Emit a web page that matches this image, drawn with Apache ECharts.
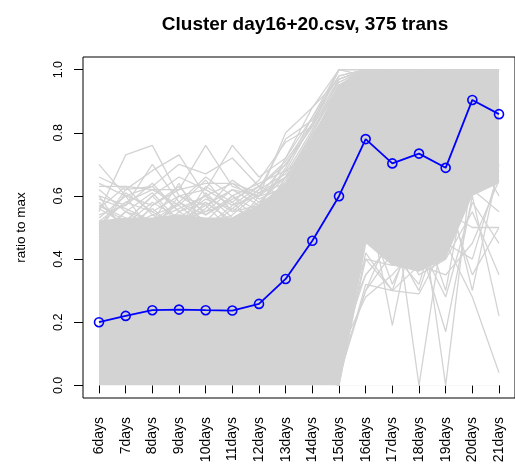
<!DOCTYPE html>
<html>
<head>
<meta charset="utf-8">
<script src="https://cdn.jsdelivr.net/npm/echarts@6/dist/echarts.min.js"></script>
<style>
  html, body { margin: 0; padding: 0; background: #fff; }
  #chart { width: 515px; height: 467px; }
</style>
</head>
<body>
<div id="chart"></div>
<script>
// tick labels on the x axis (one per day column)
var days = ['6days', '7days', '8days', '9days', '10days', '11days', '12days', '13days',
  '14days', '15days', '16days', '17days', '18days', '19days', '20days', '21days']
var yTicks = [0, 0.2, 0.4, 0.6, 0.8, 1.0]

// cluster mean (blue)
var meanRatio = [0.200, 0.220, 0.238, 0.240, 0.238, 0.237, 0.258, 0.337,
  0.458, 0.599, 0.780, 0.703, 0.734, 0.689, 0.904, 0.859]

// dense grey core of the 375 transcripts: lower / upper edge per day
var coreLow = [0, 0, 0, 0, 0, 0, 0, 0, 0, 0, 0.45, 0.38, 0.36, 0.40, 0.60, 0.64]
var coreHigh = [0.52, 0.53, 0.53, 0.54, 0.53, 0.53, 0.57, 0.64, 0.78, 0.95, 1, 1, 1, 1, 1, 1]

// individual transcripts that stand out of the core
var transHigh = [
  [0.70, 0.60, 0.63, 0.55, 0.58, 0.52, 0.55, 0.62, 0.78, 0.92, 1, 0.95, 1, 0.90, 1, 1],
  [0.55, 0.73, 0.76, 0.60, 0.62, 0.57, 0.60, 0.70, 0.82, 1, 1, 1, 0.95, 1, 1, 0.95],
  [0.50, 0.62, 0.68, 0.73, 0.60, 0.64, 0.58, 0.66, 0.80, 0.95, 1, 0.90, 1, 1, 0.95, 1],
  [0.64, 0.60, 0.57, 0.62, 0.76, 0.63, 0.60, 0.62, 0.75, 0.90, 1, 1, 0.92, 1, 1, 1],
  [0.57, 0.52, 0.60, 0.66, 0.62, 0.76, 0.66, 0.72, 0.85, 1, 0.98, 1, 1, 0.95, 1, 1],
  [0.66, 0.62, 0.63, 0.70, 0.67, 0.72, 0.63, 0.60, 0.70, 0.88, 1, 0.92, 1, 1, 1, 0.90],
  [0.63, 0.63, 0.62, 0.62, 0.64, 0.64, 0.61, 0.66, 0.72, 0.86, 0.97, 1, 1, 1, 0.96, 1],
  [0.60, 0.57, 0.70, 0.58, 0.66, 0.60, 0.64, 0.68, 0.74, 0.90, 1, 1, 0.98, 1, 1, 1],
  [0.52, 0.58, 0.55, 0.60, 0.57, 0.62, 0.60, 0.80, 0.88, 1, 1, 0.95, 1, 0.90, 1, 1],
  [0.48, 0.55, 0.52, 0.56, 0.60, 0.55, 0.62, 0.78, 0.84, 0.98, 1, 1, 1, 1, 1, 1],
  [0.45, 0.50, 0.54, 0.50, 0.58, 0.52, 0.56, 0.72, 0.88, 0.97, 1, 1, 0.96, 1, 1, 1],
  [0.42, 0.48, 0.45, 0.52, 0.55, 0.58, 0.65, 0.77, 0.82, 0.96, 1, 1, 1, 1, 1, 1],
  [0.47, 0.55, 0.50, 0.58, 0.52, 0.60, 0.55, 0.65, 0.80, 0.95, 1, 1, 1, 1, 1, 1],
  [0.58, 0.50, 0.56, 0.49, 0.61, 0.53, 0.58, 0.62, 0.75, 0.92, 1, 0.96, 1, 1, 1, 1],
  [0.53, 0.60, 0.48, 0.55, 0.50, 0.57, 0.63, 0.70, 0.82, 0.96, 1, 1, 1, 0.95, 1, 1],
  [0.62, 0.55, 0.61, 0.52, 0.57, 0.49, 0.60, 0.66, 0.78, 0.94, 1, 1, 0.97, 1, 1, 1],
  [0.50, 0.47, 0.57, 0.63, 0.54, 0.60, 0.52, 0.64, 0.80, 0.97, 1, 1, 1, 1, 0.97, 1],
  [0.56, 0.63, 0.54, 0.57, 0.65, 0.55, 0.57, 0.68, 0.83, 1, 1, 1, 1, 1, 1, 1],
  [0.46, 0.52, 0.60, 0.51, 0.56, 0.65, 0.59, 0.63, 0.79, 0.93, 1, 0.97, 1, 1, 1, 1],
  [0.60, 0.48, 0.52, 0.64, 0.49, 0.56, 0.62, 0.67, 0.81, 0.95, 1, 1, 1, 1, 1, 1],
  [0.54, 0.57, 0.64, 0.55, 0.60, 0.50, 0.54, 0.61, 0.77, 0.92, 1, 1, 1, 1, 1, 1],
  [0.49, 0.61, 0.55, 0.50, 0.63, 0.58, 0.50, 0.60, 0.76, 0.90, 1, 1, 1, 1, 1, 1],
  [0.57, 0.53, 0.49, 0.60, 0.55, 0.62, 0.57, 0.69, 0.85, 0.98, 1, 1, 1, 1, 1, 1],
  [0.51, 0.58, 0.62, 0.57, 0.50, 0.54, 0.61, 0.64, 0.78, 0.94, 1, 1, 1, 1, 1, 1],
  [0.56, 0.51, 0.58, 0.53, 0.59, 0.56, 0.53, 0.66, 0.79, 0.93, 1, 1, 1, 1, 1, 1],
  [0.59, 0.56, 0.52, 0.58, 0.54, 0.59, 0.63, 0.71, 0.83, 0.97, 1, 1, 1, 1, 1, 1]
]
var transLow = [
  [0.10, 0.12, 0.15, 0.10, 0.12, 0.08, 0.10, 0.05, 0.02, 0.00, 0.45, 0.60, 0.00, 0.55, 0.80, 0.90],
  [0.15, 0.10, 0.12, 0.18, 0.15, 0.12, 0.10, 0.08, 0.06, 0.05, 0.50, 0.55, 0.60, 0.00, 0.70, 0.75],
  [0.20, 0.25, 0.22, 0.18, 0.20, 0.25, 0.22, 0.20, 0.25, 0.30, 0.62, 0.19, 0.60, 0.50, 0.90, 1.00],
  [0.08, 0.05, 0.10, 0.06, 0.08, 0.05, 0.04, 0.03, 0.02, 0.02, 0.32, 0.30, 0.29, 0.45, 0.28, 0.04],
  [0.12, 0.15, 0.10, 0.14, 0.10, 0.12, 0.15, 0.12, 0.10, 0.10, 0.28, 0.35, 0.45, 0.17, 0.60, 0.22],
  [0.18, 0.20, 0.15, 0.20, 0.22, 0.18, 0.20, 0.15, 0.18, 0.15, 0.35, 0.45, 0.30, 0.55, 0.50, 0.50],
  [0.05, 0.08, 0.06, 0.05, 0.07, 0.06, 0.05, 0.04, 0.03, 0.00, 0.42, 0.30, 0.55, 0.30, 0.75, 0.60],
  [0.10, 0.08, 0.12, 0.10, 0.10, 0.10, 0.08, 0.05, 0.05, 0.03, 0.30, 0.50, 0.35, 0.40, 0.55, 0.35],
  [0.06, 0.04, 0.05, 0.08, 0.06, 0.05, 0.06, 0.04, 0.03, 0.02, 0.40, 0.38, 0.50, 0.65, 0.30, 0.70],
  [0.12, 0.10, 0.14, 0.12, 0.10, 0.12, 0.10, 0.10, 0.12, 0.10, 0.35, 0.45, 0.40, 0.50, 0.62, 0.55],
  [0.22, 0.18, 0.20, 0.25, 0.22, 0.20, 0.24, 0.22, 0.20, 0.20, 0.40, 0.30, 0.38, 0.35, 0.45, 0.65],
  [0.04, 0.06, 0.05, 0.04, 0.06, 0.05, 0.04, 0.05, 0.06, 0.05, 0.30, 0.42, 0.32, 0.60, 0.35, 0.50],
  [0.15, 0.18, 0.16, 0.15, 0.14, 0.16, 0.15, 0.14, 0.15, 0.15, 0.48, 0.38, 0.45, 0.28, 0.58, 0.45],
  [0.25, 0.22, 0.28, 0.24, 0.26, 0.25, 0.22, 0.26, 0.25, 0.25, 0.55, 0.32, 0.50, 0.45, 0.40, 0.68]
]

var grey = '#d3d3d3'
var dayPos = days.map(function(d, i) { return i + 1 })

function pairs(vals) {
  return vals.map(function(v, i) { return [dayPos[i], v] })
}

function greyLine(vals) {
  return {
    type: 'line',
    data: pairs(vals),
    symbol: 'none',
    lineStyle: { color: grey, width: 1.3 },
    silent: true
  }
}

var series = [
  {
    type: 'line',
    data: pairs(coreHigh),
    symbol: 'none',
    lineStyle: { color: grey, width: 1.3 },
    areaStyle: { color: grey, opacity: 1 },
    silent: true
  },
  {
    type: 'line',
    data: pairs(coreLow),
    symbol: 'none',
    lineStyle: { width: 0 },
    areaStyle: { color: '#fff', opacity: 1 },
    silent: true
  }
]
transHigh.forEach(function(t) { series.push(greyLine(t)) })
transLow.forEach(function(t) { series.push(greyLine(t)) })
series.push({
  type: 'line',
  data: pairs(meanRatio),
  symbol: 'circle',
  symbolSize: 9,
  lineStyle: { color: '#0000ff', width: 1.8 },
  itemStyle: { color: 'rgba(0,0,0,0)', borderColor: '#0000ff', borderWidth: 1.6 }
})

var chart = echarts.init(document.getElementById('chart'), null, { renderer: 'canvas' })
chart.setOption({
  animation: false,
  backgroundColor: '#fff',
  textStyle: { fontFamily: 'Liberation Sans, Arial, sans-serif' },
  title: {
    text: 'Cluster day16+20.csv, 375 trans',
    left: 300,
    textAlign: 'center',
    top: 10,
    textStyle: { fontSize: 19, fontWeight: 'bold', color: '#000' }
  },
  grid: {
    left: 83,
    right: -3,
    top: 57,
    bottom: 69,
    show: true,
    borderColor: '#000',
    borderWidth: 1,
    backgroundColor: 'transparent'
  },
  xAxis: {
    type: 'value',
    min: 0.4,
    max: 16.6,
    splitLine: { show: false },
    axisLine: { show: false },
    axisTick: { show: true, length: 8, customValues: dayPos, lineStyle: { color: '#000' } },
    axisLabel: {
      customValues: dayPos,
      rotate: 90,
      margin: 19,
      fontSize: 14,
      color: '#000',
      formatter: function(v) { return days[Math.round(v) - 1] }
    }
  },
  yAxis: {
    type: 'value',
    min: -0.04,
    max: 1.04,
    name: 'ratio to max',
    nameLocation: 'middle',
    nameGap: 55,
    nameTextStyle: { fontSize: 13.5, color: '#000' },
    splitLine: { show: false },
    axisLine: { show: false },
    axisTick: { show: true, length: 9, customValues: yTicks, lineStyle: { color: '#000' } },
    axisLabel: {
      customValues: yTicks,
      rotate: 90,
      margin: 18,
      fontSize: 12.5,
      color: '#000',
      formatter: function(v) { return v.toFixed(1) }
    }
  },
  series: series
})
</script>
</body>
</html>
